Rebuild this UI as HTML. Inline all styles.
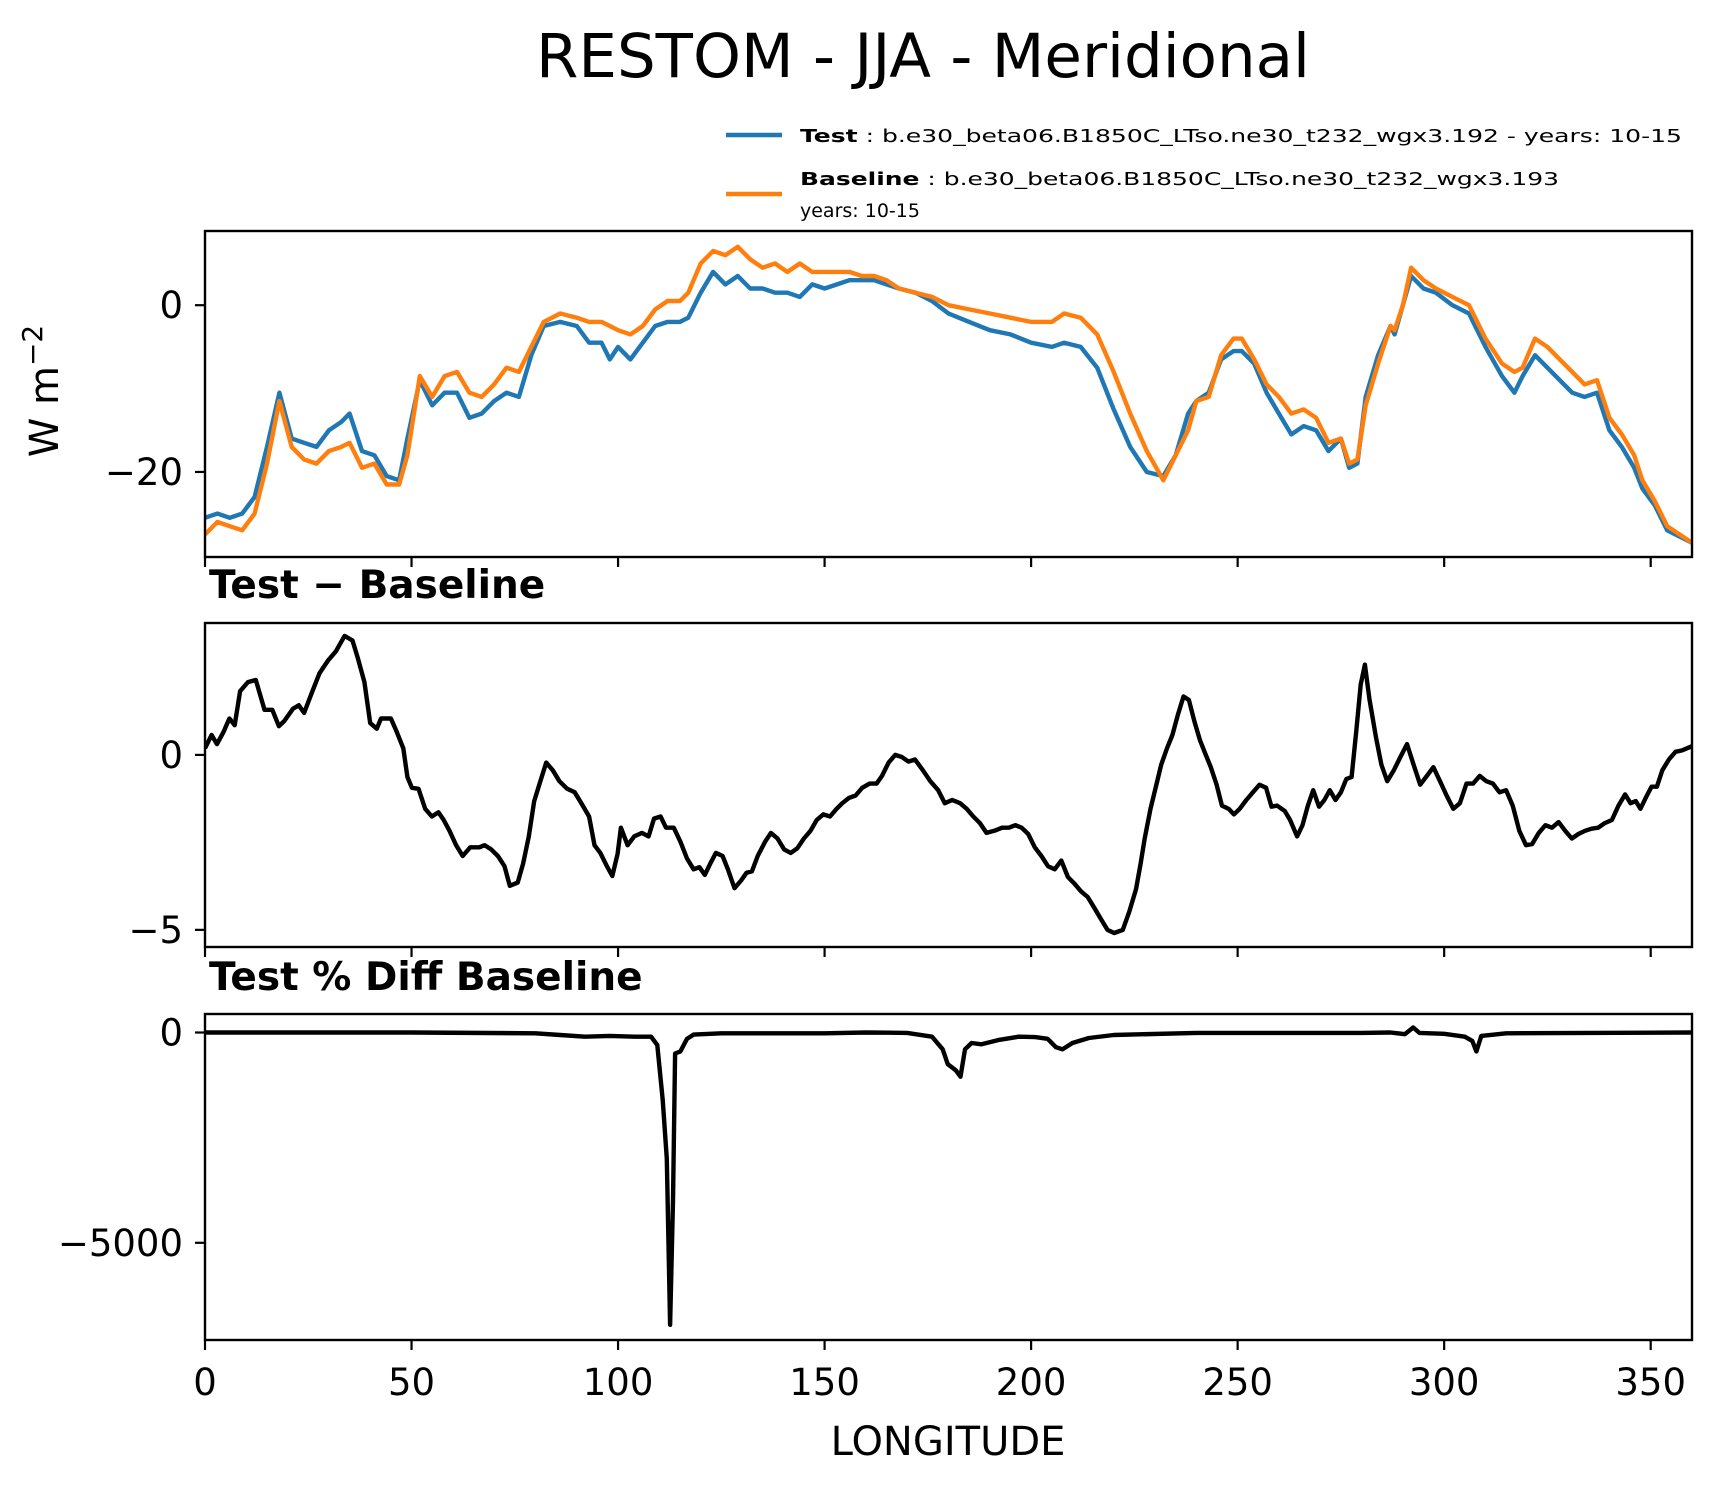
<!DOCTYPE html>
<html><head><meta charset="utf-8">
<style>
body{margin:0;background:#fff;}
svg{display:block;font-family:"DejaVu Sans","Liberation Sans",sans-serif;}
</style></head>
<body>
<svg id="fig" width="1726" height="1496" viewBox="0 0 1726 1496" xmlns="http://www.w3.org/2000/svg">
<rect width="1726" height="1496" fill="#fff"/>
<text x="923" y="77" font-size="61" text-anchor="middle">RESTOM - JJA - Meridional</text>
<g>
  <line x1="726" y1="135" x2="782" y2="135" stroke="#1f77b4" stroke-width="4.5"/>
  <text x="800" y="142" font-size="18" textLength="882" lengthAdjust="spacingAndGlyphs"><tspan font-weight="bold">Test</tspan> : b.e30_beta06.B1850C_LTso.ne30_t232_wgx3.192 - years: 10-15</text>
  <line x1="726" y1="194" x2="782" y2="194" stroke="#ff7f0e" stroke-width="4.5"/>
  <text x="800" y="185" font-size="18" textLength="759" lengthAdjust="spacingAndGlyphs"><tspan font-weight="bold">Baseline</tspan> : b.e30_beta06.B1850C_LTso.ne30_t232_wgx3.193</text>
  <text x="800" y="217" font-size="19">years: 10-15</text>
</g>
<text x="209" y="598" font-size="39" font-weight="bold">Test − Baseline</text>
<text x="209" y="990" font-size="39" font-weight="bold">Test % Diff Baseline</text>
<text x="948" y="1455" font-size="40" text-anchor="middle">LONGITUDE</text>
<text transform="translate(58,391) rotate(-90)" font-size="40" text-anchor="middle">W m<tspan dy="-16" font-size="28">−2</tspan></text>
</svg>
<script>
const lonTop=[0,3,6,9,12,15,18,21,24,27,30,33,35,38,41,44,47,49,52,55,58,61,64,67,70,73,76,79,82,86,90,93,96,98,100,103,106,109,112,115,117,120,123,126,129,132,135,138,141,144,147,150,153,156,159,162,165,168,172,176,180,185,190,195,200,205,208,212,216,220,224,228,232,235,238,240,243,246,249,251,254,257,260,263,266,269,272,275,277,279,281,284,287,288,290,292,295,298,302,306,310,314,317,319,322,325,328,331,334,337,340,343,346,348,351,354,360];
const testVals=[-25.5,-25,-25.5,-25,-23,-17,-10.5,-16,-16.5,-17,-15,-14,-13,-17.5,-18,-20.5,-21,-16,-9,-12,-10.5,-10.5,-13.5,-13,-11.5,-10.5,-11,-6,-2.5,-2,-2.5,-4.5,-4.5,-6.5,-5,-6.5,-4.5,-2.5,-2,-2,-1.5,1.5,4,2.5,3.5,2,2,1.5,1.5,1,2.5,2,2.5,3,3,3,2.5,2,1.5,0.5,-1,-2,-3,-3.5,-4.5,-5,-4.5,-5,-7.5,-12.5,-17,-20,-20.5,-18,-13,-11.5,-10.5,-6.5,-5.5,-5.5,-7,-10.5,-13,-15.5,-14.5,-15,-17.5,-16,-19.5,-19,-11,-6,-2.5,-3.5,0,3.5,2,1.5,0,-1,-5,-8.5,-10.5,-8.5,-6,-7.5,-9,-10.5,-11,-10.5,-15,-17,-19.5,-22,-24,-27,-28.5];
const baseVals=[-27.5,-26,-26.5,-27,-25,-19,-11.5,-17,-18.5,-19,-17.5,-17,-16.5,-19.5,-19,-21.5,-21.5,-18,-8.5,-11,-8.5,-8,-10.5,-11,-9.5,-7.5,-8,-5,-2,-1,-1.5,-2,-2,-2.5,-3,-3.5,-2.5,-0.5,0.5,0.5,1.5,5,6.5,6,7,5.5,4.5,5,4,5,4,4,4,4,3.5,3.5,3,2,1.5,1,0,-0.5,-1,-1.5,-2,-2,-1,-1.5,-3.5,-8,-13,-17.5,-21,-18,-15,-11.5,-11,-6,-4,-4,-6.5,-9.5,-11,-13,-12.5,-13.5,-16.5,-16,-19,-18.5,-12,-7,-2.5,-3,0,4.5,3,2,1,0,-4,-7,-8,-7.5,-4,-5,-6.5,-8,-9.5,-9,-13.5,-15.5,-18,-21,-23.5,-26.5,-28.5];
const lonDiff=[0,1.6,2.9,4.5,5.9,7.2,8.5,10.4,12.3,14.4,16.3,17.9,19.2,21.3,22.7,24,25.8,27.7,29.8,31.7,33.8,35.7,37,38.6,40,41.6,42.6,45,46.4,48,49,50.1,51.7,53.3,54.9,56.5,57.8,59.2,60.8,62.4,64.2,66.4,67.7,69.3,70.9,72.5,73.8,75.7,77,78.4,79.7,81,82.6,84.2,85.8,87.7,89.5,91.1,93,94.3,95.7,97.3,98.6,99.9,100.7,102.3,103.9,105.8,107.4,108.7,110.3,111.6,113.5,115.1,116.7,118.3,119.7,121,122.3,123.7,125.3,126.6,128.2,129.8,131.1,132.4,133.8,135.6,137,138.6,140.2,141.8,143.4,145,146.6,148.1,149.7,151.3,152.9,154.3,155.9,157.5,159.1,160.9,162.6,163.9,165.5,167.1,168.7,170.3,171.9,173.8,175.6,177.5,179.1,180.9,182.8,184.4,186,187.6,189.2,191.1,193,194.6,196.2,197.7,199.3,200.9,202.5,204.1,205.7,207.3,208.9,210.5,212.1,213.7,215.3,216.9,218.5,220.1,222.2,223.8,225.4,226.5,227.5,228.9,230.2,231.5,232.9,234.2,235.5,236.9,238.2,239.5,240.9,242.2,243.5,244.9,246.2,247.8,249.1,250.5,252.1,253.7,255.3,256.9,258.2,259.5,261.4,262.7,264.4,265.7,267,268.3,269.7,271,272.3,273.7,275,276.3,277.6,278.7,279.8,280.8,281.9,283.5,284.8,286.2,287.8,289.4,291,292.6,294.2,295.8,297.4,299,300.6,302.2,303.8,305.4,307,308.6,310.2,311.8,313.4,315,316.6,318.2,319.8,321.3,322.9,324.5,326.1,327.7,329.3,330.9,332.5,334.1,335.7,337.3,338.9,340.6,342.2,343.8,345.1,346.4,347.5,348.8,350.2,351.5,352.8,354.4,356,357.6,360];
const diffVals=[0.19,0.57,0.31,0.66,1.04,0.85,1.82,2.08,2.14,1.29,1.29,0.82,0.97,1.32,1.42,1.2,1.76,2.33,2.7,2.96,3.4,3.27,2.77,2.08,0.91,0.75,1.04,1.04,0.66,0.19,-0.63,-0.94,-0.97,-1.54,-1.76,-1.64,-1.86,-2.17,-2.58,-2.89,-2.64,-2.64,-2.58,-2.7,-2.89,-3.18,-3.74,-3.65,-3.11,-2.33,-1.32,-0.82,-0.22,-0.44,-0.75,-0.97,-1.07,-1.38,-1.76,-2.58,-2.8,-3.18,-3.46,-2.83,-2.08,-2.58,-2.33,-2.23,-2.33,-1.82,-1.76,-2.08,-2.08,-2.48,-2.96,-3.27,-3.21,-3.43,-3.11,-2.8,-2.89,-3.27,-3.81,-3.59,-3.37,-3.33,-2.89,-2.48,-2.23,-2.39,-2.7,-2.8,-2.67,-2.39,-2.17,-1.86,-1.7,-1.76,-1.54,-1.38,-1.23,-1.16,-0.94,-0.82,-0.82,-0.6,-0.22,0,-0.06,-0.19,-0.13,-0.44,-0.75,-1.01,-1.38,-1.29,-1.38,-1.54,-1.76,-1.95,-2.23,-2.17,-2.08,-2.08,-2.01,-2.08,-2.26,-2.64,-2.89,-3.18,-3.27,-3.02,-3.49,-3.68,-3.9,-4.06,-4.37,-4.69,-5,-5.09,-5,-4.47,-3.84,-3.11,-2.39,-1.54,-0.91,-0.28,0.19,0.57,1.13,1.67,1.57,0.97,0.41,0.03,-0.35,-0.85,-1.45,-1.54,-1.7,-1.54,-1.29,-1.07,-0.85,-0.94,-1.48,-1.45,-1.6,-1.86,-2.33,-2.01,-1.45,-1.01,-1.48,-1.29,-1.01,-1.29,-1.07,-0.69,-0.63,0.66,2.01,2.58,1.6,0.5,-0.28,-0.75,-0.44,-0.06,0.31,-0.28,-0.85,-0.6,-0.35,-0.75,-1.16,-1.54,-1.38,-0.82,-0.82,-0.6,-0.75,-0.82,-1.07,-1.01,-1.45,-2.17,-2.58,-2.55,-2.23,-2.01,-2.08,-1.92,-2.17,-2.39,-2.26,-2.17,-2.11,-2.08,-1.95,-1.86,-1.45,-1.13,-1.38,-1.32,-1.54,-1.23,-0.91,-0.91,-0.44,-0.13,0.09,0.13,0.25];
const lonPct=[0,50,80,86,92,98,104,108,109.5,110.8,111.8,112.6,113.3,113.8,115.1,116.7,118.3,125,150,160,170,176,178.6,179.8,181.8,182.9,184,185.6,188,192,197,201,204,206,207.6,210,214,220,240,260,280,287,290.5,292.5,294,300,305,306.8,307.8,309,315,360];
const pctVals=[0,0,-20,-60,-100,-80,-100,-100,-300,-1600,-3000,-6950,-4000,-500,-450,-150,-50,-20,-20,0,-10,-100,-400,-750,-900,-1050,-400,-250,-280,-180,-100,-110,-150,-350,-400,-250,-130,-60,-10,-10,-10,0,-40,120,-10,-30,-100,-200,-450,-80,-20,0];
const xTicks=[0,50,100,150,200,250,300,350];
const topTicks=[0,-20], diffTicks=[0,-5], pctTicks=[0,-5000];

const NS='http://www.w3.org/2000/svg';
const svg=document.getElementById('fig');
const X0=205,X1=1692;
const xs=v=>X0+(v/360)*(X1-X0);
function mk(tag,attrs,parent){const e=document.createElementNS(NS,tag);for(const k in attrs)e.setAttribute(k,attrs[k]);(parent||svg).appendChild(e);return e;}
function panel(name,top,bot,ymax,ymin,ticks,series,showX){
  const g=mk('g',{});
  
  
  const ys=v=>top+(ymax-v)/(ymax-ymin)*(bot-top);
  const clipId='clip-'+name;
  const cp=mk('clipPath',{id:clipId},g);
  mk('rect',{x:X0,y:top,width:X1-X0,height:bot-top},cp);
  series.forEach(s=>{
    const d=s.lon.map((l,i)=>(i?'L':'M')+xs(l).toFixed(1)+','+ys(s.vals[i]).toFixed(1)).join('');
    const p=mk('path',{d:d,fill:'none',stroke:s.color,'stroke-width':4.4,'stroke-linejoin':'round','clip-path':'url(#'+clipId+')'},g);
    
    
  });
  const fr=mk('rect',{x:X0,y:top,width:X1-X0,height:bot-top,fill:'none',stroke:'#000','stroke-width':2.4},g);
  
  
  ticks.forEach(t=>{
    const y=ys(t);
    const tk=mk('line',{x1:X0-10,x2:X0,y1:y,y2:y,stroke:'#000','stroke-width':2.2},g);
    
    
    const lb=mk('text',{x:X0-22,y:y+13,'font-size':37,'text-anchor':'end'},g);
    lb.textContent=(t<0?'−':'')+Math.abs(t);
    
    
  });
  xTicks.forEach(t=>{
    const x=xs(t);
    const tk=mk('line',{x1:x,x2:x,y1:bot,y2:bot+10,stroke:'#000','stroke-width':2.2},g);
    
    
    if(showX){
      const lb=mk('text',{x:x,y:bot+55,'font-size':37,'text-anchor':'middle'},g);
      lb.textContent=t;
      
      
    }
  });
}
panel('restom-panel',231,557,8.9,-30.2,topTicks,[
  {name:'test-line',lon:lonTop,vals:testVals,color:'#1f77b4'},
  {name:'baseline-line',lon:lonTop,vals:baseVals,color:'#ff7f0e'}],false);
panel('diff-panel',623,947,3.77,-5.49,diffTicks,[
  {name:'diff-line',lon:lonDiff,vals:diffVals,color:'#000'}],false);
panel('pctdiff-panel',1014,1340,440,-7311,pctTicks,[
  {name:'pctdiff-line',lon:lonPct,vals:pctVals,color:'#000'}],true);
</script>
</body></html>
